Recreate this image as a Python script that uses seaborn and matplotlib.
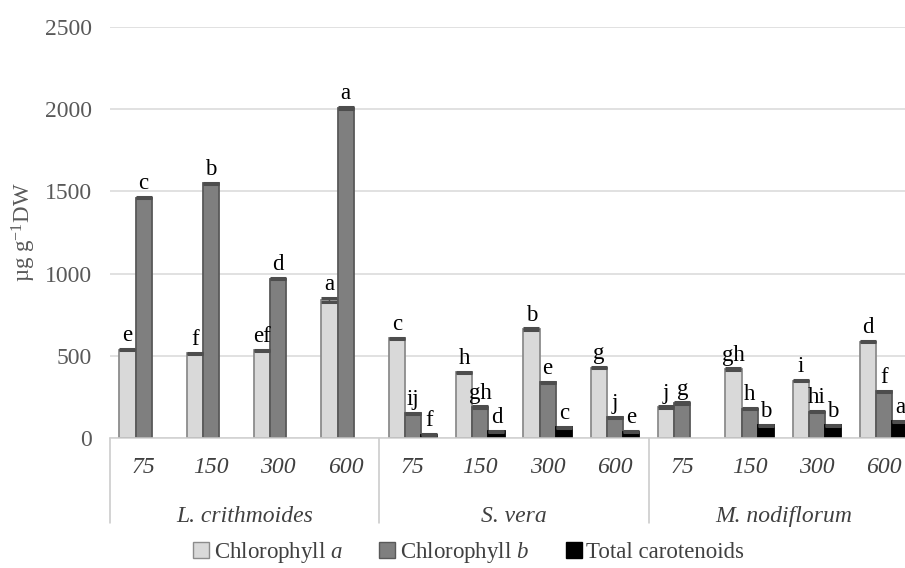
import numpy as np
import pandas as pd
import matplotlib.pyplot as plt
import matplotlib.transforms as mtransforms
from matplotlib.patches import Patch
import seaborn as sns

# %% data
species = ["L. crithmoides", "S. vera", "M. nodiflorum"]
doses = ["75", "150", "300", "600"]
pigments = ["Chlorophyll a", "Chlorophyll b", "Total carotenoids"]
legend_labels = ["Chlorophyll $a$", "Chlorophyll $b$", "Total carotenoids"]

chl_a = [538, 514, 533, 840, 606, 400, 663, 428, 188, 420, 348, 586]
chl_b = [1462, 1548, 970, 2008, 150, 188, 338, 126, 212, 178, 160, 283]
carot = [np.nan, np.nan, np.nan, np.nan, 20, 42, 66, 38, np.nan, 78, 78, 102]

err_a = [4, 4, 4, 12, 4, 4, 4, 4, 4, 4, 4, 4]
err_b = [4, 6, 4, 5, 4, 4, 4, 4, 4, 4, 4, 4]
err_c = [np.nan, np.nan, np.nan, np.nan, 3, 3, 3, 3, np.nan, 3, 3, 3]

let_a = ["e", "f", "ef", "a", "c", "h", "b", "g", "j", "gh", "i", "d"]
let_b = ["c", "b", "d", "a", "ij", "gh", "e", "j", "g", "h", "hi", "f"]
let_c = ["", "", "", "", "f", "d", "c", "e", "", "b", "b", "a"]

fills = {"Chlorophyll a": "#d9d9d9", "Chlorophyll b": "#7f7f7f", "Total carotenoids": "#000000"}
edges = {"Chlorophyll a": "#8c8c8c", "Chlorophyll b": "#595959", "Total carotenoids": "#000000"}

# %% long table
keys = [f"{s}|{d}" for s in species for d in doses]
rows = []
for name, vals, errs, lets in zip(pigments, [chl_a, chl_b, carot],
                                  [err_a, err_b, err_c], [let_a, let_b, let_c]):
    for k, v, e, l in zip(keys, vals, errs, lets):
        rows.append(dict(key=k, pigment=name, value=v, err=e, letter=l))
df = pd.DataFrame(rows)

# %% plot
sns.set_theme(style="white")
plt.rcParams["font.family"] = ["Liberation Serif", "DejaVu Serif"]
plt.rcParams["mathtext.fontset"] = "custom"
plt.rcParams["mathtext.rm"] = "Liberation Serif"
plt.rcParams["mathtext.it"] = "Liberation Serif:italic"

fig = plt.figure(figsize=(9.05, 5.68), dpi=100)
ax = fig.add_axes([0.1215, 0.2289, 0.8928, 0.7236])

sns.barplot(data=df, x="key", y="value", hue="pigment", order=keys,
            hue_order=pigments, palette=fills, width=0.72, errorbar=None,
            saturation=1, legend=False, linewidth=1.3, ax=ax)

bar_conts = list(ax.containers)
for i, cont in enumerate(bar_conts):
    name = pigments[i]
    for bar in cont:
        bar.set_edgecolor(edges[name])
        cx = bar.get_x() + bar.get_width() / 2
        k = keys[int(round(cx))]
        row = df[(df["key"] == k) & (df["pigment"] == name)].iloc[0]
        if np.isnan(row["value"]):
            continue
        ax.errorbar(cx, row["value"], yerr=row["err"], fmt="none",
                    ecolor="#4d4d4d", elinewidth=1, capsize=5.6, capthick=2.2,
                    zorder=4)
        ax.annotate(row["letter"], xy=(cx, row["value"] + row["err"]),
                    xytext=(0, 2), textcoords="offset points",
                    ha="center", va="bottom", fontsize=16.5, color="black",
                    zorder=5)

ax.set_xlim(-0.5, 11.5)
ax.set_ylim(0, 2500)
ax.set_yticks(range(0, 2501, 500))
ax.yaxis.grid(True, color="#d9d9d9", linewidth=1.1)
ax.set_axisbelow(True)
for side in ["left", "right", "top"]:
    ax.spines[side].set_visible(False)
ax.spines["bottom"].set_color("#d0d0d0")
ax.spines["bottom"].set_linewidth(1.1)

ax.set_xticks(range(len(keys)), labels=doses * len(species))
for lbl in ax.get_xticklabels():
    lbl.set_style("italic")
ax.tick_params(axis="y", length=0, pad=13, labelsize=17, labelcolor="#595959")
ax.tick_params(axis="x", length=0, pad=14, labelsize=17, labelcolor="#404040")
ax.set_xlabel("")
ax.set_ylabel("µg g$^{-1}$DW", fontsize=16.5, color="#595959", labelpad=5)

# species row and group separators
trans = mtransforms.blended_transform_factory(ax.transData, ax.transAxes)
for i, s in enumerate(species):
    ax.text(1.5 + 4 * i, -0.19, s, transform=trans, ha="center", va="center",
            style="italic", fontsize=17, color="#404040")
for b in np.arange(-0.5, len(keys), 4):
    ax.plot([b, b], [0, -0.207], transform=trans, color="#c8c8c8",
            linewidth=1.1, clip_on=False)

handles = [Patch(facecolor=fills[p], edgecolor=edges[p], linewidth=1)
           for p in pigments]
fig.legend(handles, legend_labels, loc="center", bbox_to_anchor=(0.518, 0.027),
           ncol=3, frameon=False, fontsize=16.5, handlelength=0.7,
           handleheight=0.7, handletextpad=0.2, columnspacing=1.6,
           labelcolor="#404040", borderpad=0.1)

fig.savefig("out.png", dpi=100)
